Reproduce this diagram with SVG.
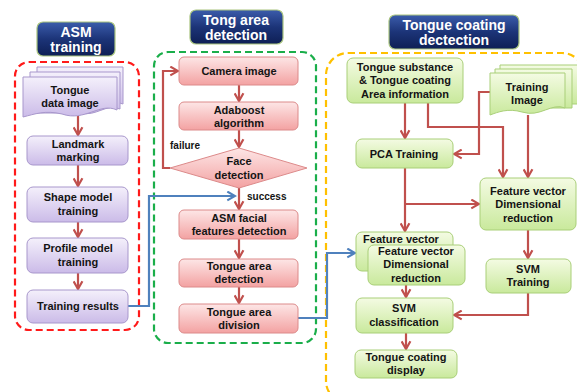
<svg xmlns="http://www.w3.org/2000/svg" width="577" height="392" viewBox="0 0 577 392">
<defs>
<linearGradient id="gTitle" x1="0" y1="0" x2="0" y2="1">
<stop offset="0" stop-color="#3b5cab"/><stop offset="0.5" stop-color="#1c3478"/><stop offset="1" stop-color="#0e1f55"/>
</linearGradient>
<linearGradient id="gPurple" x1="0" y1="0" x2="0" y2="1">
<stop offset="0" stop-color="#f4f0fb"/><stop offset="1" stop-color="#cbbbe8"/>
</linearGradient>
<linearGradient id="gRed" x1="0" y1="0" x2="0" y2="1">
<stop offset="0" stop-color="#fde6e6"/><stop offset="1" stop-color="#f3a2a2"/>
</linearGradient>
<linearGradient id="gGreen" x1="0" y1="0" x2="0" y2="1">
<stop offset="0" stop-color="#f4fbe3"/><stop offset="1" stop-color="#c9e99c"/>
</linearGradient>
<marker id="aR" viewBox="0 0 10 10" refX="8" refY="5" markerWidth="5" markerHeight="5" orient="auto" markerUnits="strokeWidth">
<path d="M1,1 L8,5 L1,9" fill="none" stroke="#c0504d" stroke-width="2"/>
</marker>
<marker id="aB" viewBox="0 0 10 10" refX="8" refY="5" markerWidth="5" markerHeight="5" orient="auto" markerUnits="strokeWidth">
<path d="M1,1 L8,5 L1,9" fill="none" stroke="#4f81bd" stroke-width="2"/>
</marker>
</defs>
<style>
text{font-family:"Liberation Sans",Arial,sans-serif;font-weight:bold;font-size:11px;fill:#141414;text-anchor:middle}
.t{font-size:14px;fill:#ffffff}
.lbl{font-size:10px;text-anchor:start}
.title{fill:url(#gTitle);stroke:#a9c47f;stroke-width:1.2}
.p{fill:url(#gPurple);stroke:#a897cc;stroke-width:1}
.r{fill:url(#gRed);stroke:#dc8a8a;stroke-width:1}
.g{fill:url(#gGreen);stroke:#a9cf78;stroke-width:1}
.ar{fill:none;stroke:#c0504d;stroke-width:2.2;marker-end:url(#aR)}
.ab{fill:none;stroke:#4f81bd;stroke-width:2.2;marker-end:url(#aB)}
</style>

<!-- containers -->
<g id="panels">
<rect x="15" y="62" width="124" height="268" rx="14" fill="none" stroke="#ff1a1a" stroke-width="2.2" stroke-dasharray="7,4"/>
<rect x="154" y="52" width="162" height="291" rx="14" fill="none" stroke="#1aae4a" stroke-width="2.2" stroke-dasharray="7,4"/>
<rect x="326" y="53" width="258" height="350" rx="22" fill="none" stroke="#ffc000" stroke-width="2.2" stroke-dasharray="7,4"/>
</g>

<!-- titles -->
<g id="title-asm">
<rect class="title" x="37" y="22" width="78" height="34" rx="6"/>
<text class="t" x="76" y="37">ASM</text><text class="t" x="76" y="52">training</text>
</g>
<g id="title-tong">
<rect class="title" x="190" y="10" width="93" height="34" rx="6"/>
<text class="t" x="236" y="25">Tong area</text><text class="t" x="236" y="40">detection</text>
</g>
<g id="title-coat">
<rect class="title" x="389" y="15" width="130" height="34" rx="6"/>
<text class="t" x="454" y="30">Tongue coating</text><text class="t" x="454" y="45">dectection</text>
</g>

<!-- connectors -->
<g id="connectors">
<path class="ar" d="M78,116 V135"/>
<path class="ar" d="M78,165 V186"/>
<path class="ar" d="M78,222 V237"/>
<path class="ar" d="M78,273 V289"/>
<path class="ar" d="M239,85 V101"/>
<path class="ar" d="M239,130 V147"/>
<path class="ar" d="M170,168 H163 V71 H178"/>
<path class="ar" d="M239,188 V209"/>
<path class="ar" d="M239,239 V258"/>
<path class="ar" d="M239,287 V303"/>
<path class="ab" d="M128,306 H149 V196 H235"/>
<path class="ab" d="M298,318 H327 V253 H355"/>
<path class="ar" d="M405,103 V138"/>
<path class="ar" d="M428,103 V127 H503 V177"/>
<path class="ar" d="M490,92 H479 V154 H454"/>
<path class="ar" d="M528,115 V177"/>
<path class="ar" d="M405,168 V231"/>
<path class="ar" d="M405,204 H479"/>
<path class="ar" d="M406,285 V297"/>
<path class="ar" d="M528,230 V258"/>
<path class="ar" d="M528,293 V315 H454"/>
<path class="ar" d="M406,333 V349"/>
</g>

<!-- ASM training nodes -->
<g id="tongue-data-image">
<path class="p" d="M37,67 H123 V104 C110,98 100,112 86,108 L37,108 Z"/>
<path class="p" d="M30,72 H120 V109 C106,103 96,117 81,113 L30,113 Z"/>
<path class="p" d="M23,77 H117 V110 C100,102 85,122 62,114 C45,110 35,114 23,117 Z"/>
<text x="70" y="94">Tongue</text><text x="70" y="107">data image</text>
</g>
<g id="landmark-marking">
<rect class="p" x="27" y="136" width="101" height="29" rx="6"/>
<text x="78" y="148">Landmark</text><text x="78" y="161">marking</text>
</g>
<g id="shape-model-training">
<rect class="p" x="27" y="187" width="101" height="35" rx="6"/>
<text x="78" y="201">Shape model</text><text x="78" y="215">training</text>
</g>
<g id="profile-model-training">
<rect class="p" x="27" y="238" width="101" height="35" rx="6"/>
<text x="78" y="252">Profile model</text><text x="78" y="266">training</text>
</g>
<g id="training-results">
<rect class="p" x="27" y="290" width="101" height="33" rx="6"/>
<text x="78" y="310">Training results</text>
</g>

<!-- Tong area detection nodes -->
<g id="camera-image">
<rect class="r" x="179" y="57" width="119" height="28" rx="5"/>
<text x="239" y="75">Camera image</text>
</g>
<g id="adaboost">
<rect class="r" x="179" y="102" width="119" height="28" rx="5"/>
<text x="239" y="114">Adaboost</text><text x="239" y="127">algorithm</text>
</g>
<g id="face-detection">
<polygon class="r" points="239,148 307,168 239,188 170,168"/>
<text x="239" y="165">Face</text><text x="239" y="179">detection</text>
<text class="lbl" x="170" y="149">failure</text>
<text class="lbl" x="247" y="200">success</text>
</g>
<g id="asm-facial">
<rect class="r" x="179" y="210" width="119" height="29" rx="5"/>
<text x="239" y="222">ASM facial</text><text x="239" y="235">features detection</text>
</g>
<g id="tongue-area-detection">
<rect class="r" x="179" y="259" width="119" height="28" rx="5"/>
<text x="239" y="270">Tongue area</text><text x="239" y="283">detection</text>
</g>
<g id="tongue-area-division">
<rect class="r" x="179" y="304" width="119" height="29" rx="5"/>
<text x="239" y="316">Tongue area</text><text x="239" y="329">division</text>
</g>

<!-- Tongue coating detection nodes -->
<g id="tongue-substance">
<rect class="g" x="347" y="58" width="116" height="45" rx="6"/>
<text x="405" y="71">Tongue substance</text><text x="405" y="84">&amp; Tongue coating</text><text x="405" y="98">Area information</text>
</g>
<g id="training-image">
<path class="g" d="M500,65 H579 V104 L500,104 Z"/>
<path class="g" d="M495,69 H572 V108 L495,108 Z"/>
<path class="g" d="M490,73 H565 V108 C552,102 540,118 522,112 C508,108 498,112 490,115 Z"/>
<text x="527" y="91">Training</text><text x="527" y="104">Image</text>
</g>
<g id="pca-training">
<rect class="g" x="356" y="139" width="97" height="29" rx="6"/>
<text x="404" y="158">PCA Training</text>
</g>
<g id="feature-vector-right">
<rect class="g" x="480" y="178" width="96" height="52" rx="6"/>
<text x="528" y="195">Feature vector</text><text x="528" y="208">Dimensional</text><text x="528" y="222">reduction</text>
</g>
<g id="feature-vector-left">
<rect class="g" x="356" y="232" width="97" height="39" rx="6"/>
<text x="401" y="243">Feature vector</text>
<rect class="g" x="368" y="245" width="97" height="40" rx="6"/>
<text x="416" y="255">Feature vector</text><text x="416" y="268">Dimensional</text><text x="416" y="282">reduction</text>
</g>
<g id="svm-training">
<rect class="g" x="486" y="259" width="85" height="34" rx="6"/>
<text x="528" y="273">SVM</text><text x="528" y="286">Training</text>
</g>
<g id="svm-classification">
<rect class="g" x="356" y="298" width="97" height="35" rx="6"/>
<text x="404" y="312">SVM</text><text x="404" y="326">classification</text>
</g>
<g id="tongue-coating-display">
<rect class="g" x="355" y="350" width="102" height="28" rx="6"/>
<text x="406" y="361">Tongue coating</text><text x="406" y="374">display</text>
</g>
</svg>
